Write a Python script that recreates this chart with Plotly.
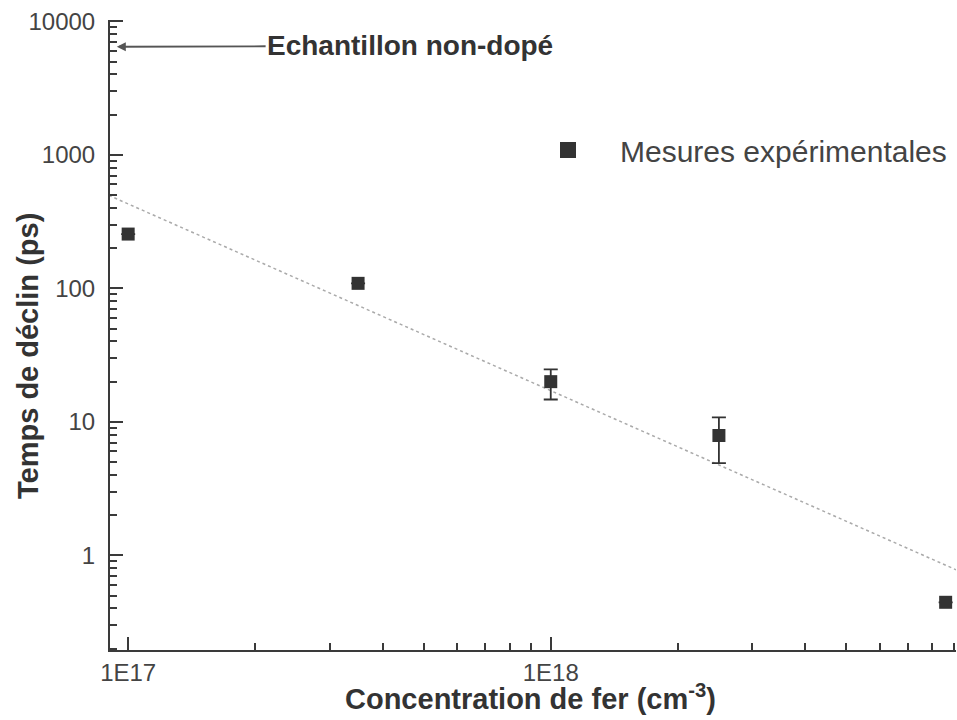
import plotly.graph_objects as go
import math

# Data
conc = [1.0e17, 3.5e17, 1.0e18, 2.5e18, 8.6e18]          # cm^-3
decay = [255, 109, 20, 7.9, 0.445]                          # ps
err_plus = [0, 0, 4.7, 2.9, 0]
err_minus = [0, 0, 5.3, 3.0, 0]
fit_x = [9.0e16, 9.1e18]
fit_y = [497, 0.78]
undoped_x = 9.4e16
undoped_y = 6450

x_tickvals = [1e17, 1e18]
x_ticktext = ["1E17", "1E18"]
y_tickvals = [1, 10, 100, 1000, 10000]
y_ticktext = ["1", "10", "100", "1000", "10000"]

FONT = "Liberation Sans, Arial, sans-serif"
AX = "#3a3a3a"

x_minor = [m * 10 ** e for e in (16, 17, 18) for m in range(2, 10)]
y_minor = [m * 10 ** e for e in (-1, 0, 1, 2, 3) for m in range(2, 10)]

L, R, T, B = 110, 1, 20, 70
W, H = 957, 720
PW, PH = W - L - R, H - T - B


def px(xp):
    return (xp - L) / PW


def py(yp):
    return (H - B - yp) / PH


fig = go.Figure()
fig.add_trace(go.Scatter(x=fit_x, y=fit_y, mode="lines",
                         line=dict(color="#aaaaaa", width=1.5, dash="dot"),
                         showlegend=False, hoverinfo="skip"))
fig.add_trace(go.Scatter(
    x=conc, y=decay, mode="markers", name="Mesures expérimentales",
    marker=dict(symbol="square", size=13, color="#333333"),
    error_y=dict(type="data", array=err_plus, arrayminus=err_minus,
                 color="#333333", thickness=1.8, width=7, visible=True),
    cliponaxis=False, showlegend=False,
))

fig.update_xaxes(
    type="log", range=[16.957, 18.959], automargin=False,
    showline=True, linecolor=AX, linewidth=2, mirror=False,
    showgrid=False, zeroline=False,
    ticks="inside", ticklen=13, tickwidth=2, tickcolor=AX,
    tickmode="array", tickvals=x_tickvals, ticktext=x_ticktext,
    tickfont=dict(family=FONT, size=24, color="#444444"),
    ticklabelstandoff=0,
    minor=dict(ticks="inside", ticklen=7, tickwidth=2, tickcolor=AX,
               tickmode="array", tickvals=x_minor, showgrid=False),
)
fig.update_yaxes(
    type="log", range=[-0.709, 4.01], automargin=False,
    showline=True, linecolor=AX, linewidth=2, mirror=False,
    showgrid=False, zeroline=False,
    ticks="inside", ticklen=13, tickwidth=2, tickcolor=AX,
    tickmode="array", tickvals=y_tickvals, ticktext=y_ticktext,
    tickfont=dict(family=FONT, size=24, color="#444444"),
    ticklabelstandoff=8,
    minor=dict(ticks="inside", ticklen=7, tickwidth=2, tickcolor=AX,
               tickmode="array", tickvals=y_minor, showgrid=False),
)

# annotation with arrow pointing at the y axis
fig.add_annotation(x=math.log10(undoped_x), y=math.log10(undoped_y),
                   xref="x", yref="y", text="<b>Echantillon non-dopé</b>",
                   showarrow=True, ax=410 - 116.7, ay=-1,
                   arrowhead=2, arrowsize=1, arrowwidth=1.8, arrowcolor="#555555",
                   font=dict(family=FONT, size=28, color="#333333"))

# axis titles
fig.add_annotation(x=px(530), y=py(697), xref="paper", yref="paper",
                   text="<b>Concentration de fer (cm<sup>-3</sup>)</b>",
                   showarrow=False, xanchor="center", yanchor="middle",
                   font=dict(family=FONT, size=29, color="#333333"))
fig.add_annotation(x=px(28), y=py(356), xref="paper", yref="paper",
                   text="<b>Temps de déclin (ps)</b>", textangle=-90,
                   showarrow=False, xanchor="center", yanchor="middle",
                   font=dict(family=FONT, size=29, color="#333333"))

# legend (symbol + label)
fig.add_shape(type="rect", xref="paper", yref="paper",
              x0=px(560), x1=px(576), y0=py(158), y1=py(142),
              fillcolor="#333333", line=dict(width=0))
fig.add_annotation(x=px(618), y=py(151), xref="paper", yref="paper",
                   text="Mesures expérimentales", showarrow=False,
                   xanchor="left", yanchor="middle",
                   font=dict(family=FONT, size=30, color="#444444"))

fig.update_layout(
    width=W, height=H,
    margin=dict(l=L, r=R, t=T, b=B),
    paper_bgcolor="white", plot_bgcolor="white",
    showlegend=False,
)

fig.write_html("out.html", config={"displayModeBar": False},
               post_script="document.body.style.margin='0';document.body.style.overflow='hidden';")
